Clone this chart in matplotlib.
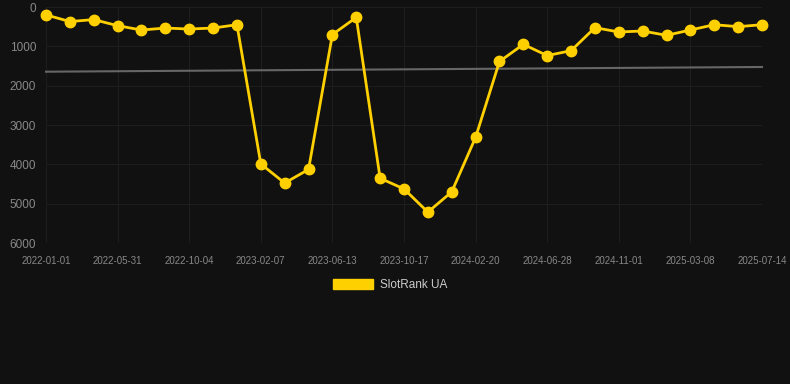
import matplotlib
matplotlib.use("Agg")
import matplotlib.pyplot as plt
from matplotlib.patches import Patch

tick_labels = ["2022-01-01", "2022-05-31", "2022-10-04", "2023-02-07", "2023-06-13",
               "2023-10-17", "2024-02-20", "2024-06-28", "2024-11-01", "2025-03-08",
               "2025-07-14"]
rank_values = [200, 370, 320, 475, 585, 535, 560, 535, 450, 3990, 4475, 4130, 700, 265,
               4355, 4625, 5215, 4700, 3315, 1385, 950, 1235, 1110, 525, 635, 610, 720,
               585, 450, 500, 450]
trend_values = [1645, 1525]

plt.rcParams['font.family'] = ['Liberation Sans', 'DejaVu Sans']

bg = "#111111"
fig = plt.figure(figsize=(7.9, 3.84), dpi=100, facecolor=bg)
ax = fig.add_axes([46/790, 1-243/384, (762-46)/790, (243-7)/384], facecolor=bg)

x = list(range(len(rank_values)))
ax.plot([x[0], x[-1]], trend_values, color="#666666", lw=1.5, zorder=2, clip_on=False)
ax.plot(x, rank_values, color="#FFD000", lw=2.0, marker="o", ms=7.5,
        mfc="#FFD000", mec="#FFD000", zorder=3, clip_on=False)

ax.set_xlim(0, len(rank_values)-1)
ax.set_ylim(6000, 0)
ax.set_yticks([0, 1000, 2000, 3000, 4000, 5000, 6000])
ax.set_xticks(x[::3])
ax.set_xticklabels(tick_labels)

ax.grid(True, color="#1e1e1e", lw=0.8)
ax.set_axisbelow(True)
for s in ax.spines.values():
    s.set_visible(False)
ax.tick_params(axis='y', length=0, pad=7, labelsize=8.5, labelcolor="#888888")
ax.tick_params(axis='x', length=0, pad=9, labelsize=7, labelcolor="#888888")

handle = Patch(facecolor="#FFD000", edgecolor="#FFD000")
leg = fig.legend([handle], ["SlotRank UA"], loc="center", bbox_to_anchor=(390/790, 1-285/384),
                 frameon=False, fontsize=8.5, handlelength=3.4, handleheight=1.0,
                 handletextpad=0.6, labelcolor="#cccccc")

fig.savefig("out.png", dpi=100, facecolor=bg)
